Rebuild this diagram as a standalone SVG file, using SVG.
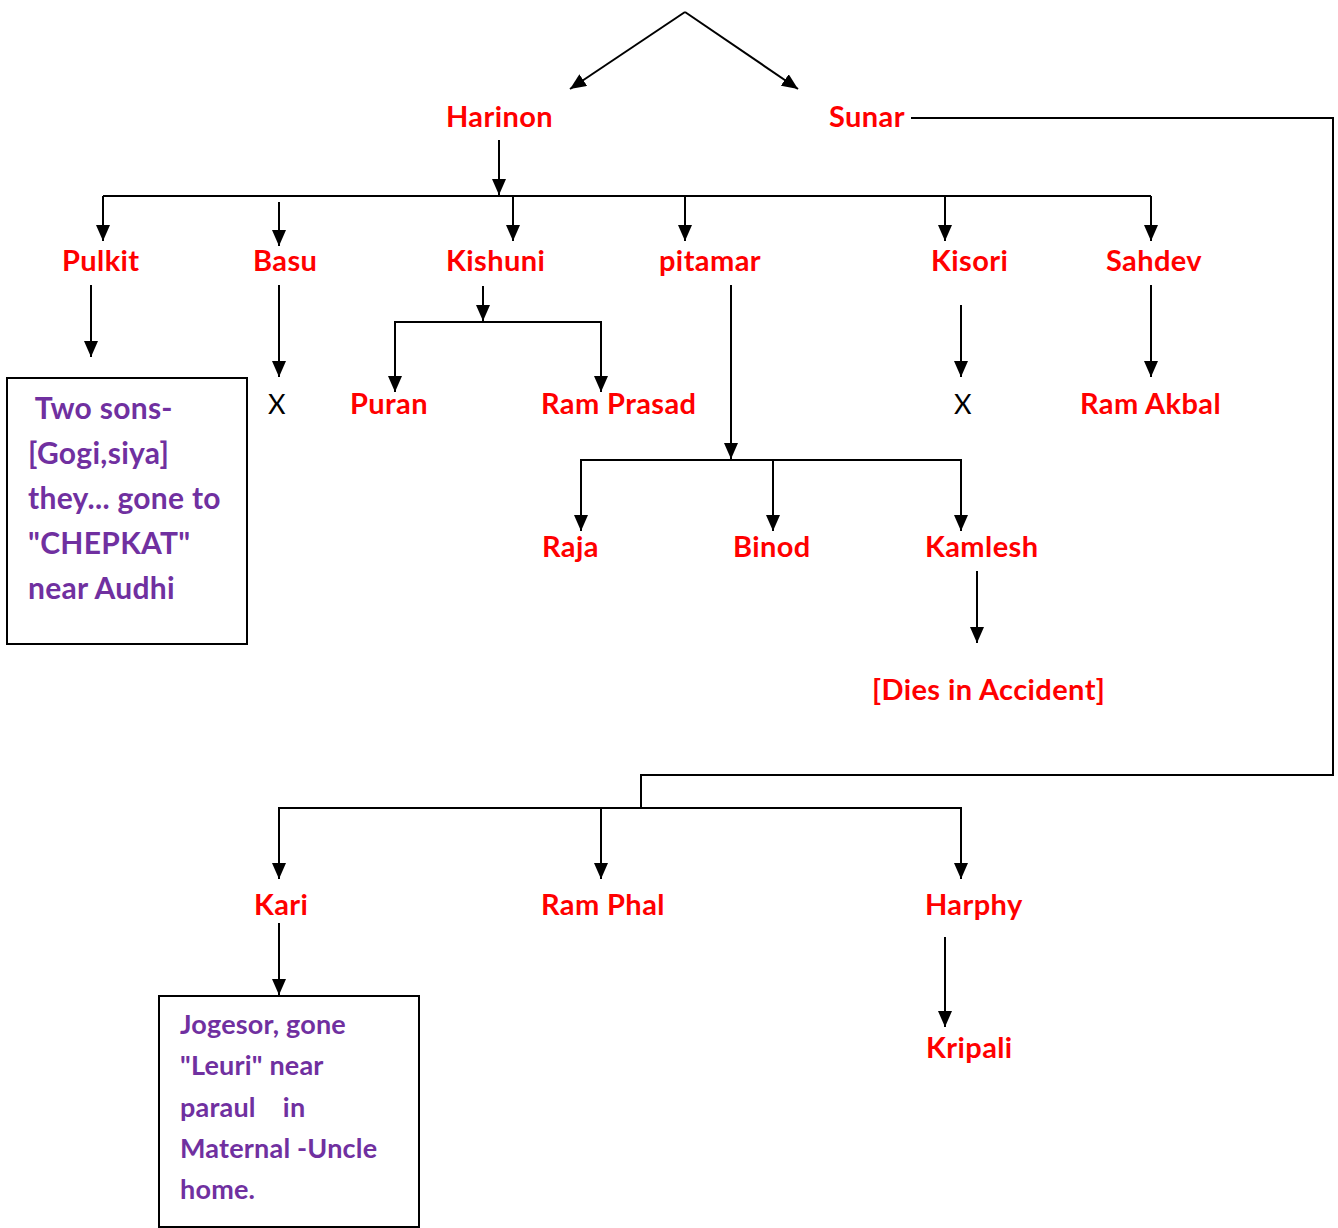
<svg xmlns="http://www.w3.org/2000/svg" width="1338" height="1228" viewBox="0 0 1338 1228">
<defs>
<marker id="ah" viewBox="0 0 16 14" refX="16" refY="7" markerWidth="16" markerHeight="14" orient="auto" markerUnits="userSpaceOnUse"><path d="M0,0 L16,7 L0,14 z" fill="#000"/></marker>
<style>
.n{font-family:Lato,"Liberation Sans",sans-serif;font-weight:bold;font-size:29px;letter-spacing:0.4px;fill:#FF0000}
.p{font-family:Lato,"Liberation Sans",sans-serif;font-weight:bold;font-size:27px;letter-spacing:0.2px;fill:#7030A0}
.q{font-family:Lato,"Liberation Sans",sans-serif;font-weight:bold;font-size:30px;letter-spacing:0.3px;fill:#7030A0}
.x{font-family:Lato,"Liberation Sans",sans-serif;font-size:27px;fill:#000}
.c line,.c polyline{stroke:#000;stroke-width:2;fill:none}
.a{marker-end:url(#ah)}
.box{fill:#fff;stroke:#000;stroke-width:2}
</style>
</defs>
<rect width="1338" height="1228" fill="#fff"/>
<g id="connectors" class="c">
<line class="a" x1="685" y1="12" x2="570" y2="89"/>
<line class="a" x1="685" y1="12" x2="798" y2="89"/>
<line class="a" x1="499" y1="140" x2="499" y2="195"/>
<line x1="103" y1="196" x2="1151" y2="196"/>
<line class="a" x1="103" y1="196" x2="103" y2="241"/>
<line class="a" x1="279" y1="202" x2="279" y2="246"/>
<line class="a" x1="513" y1="196" x2="513" y2="241"/>
<line class="a" x1="685" y1="196" x2="685" y2="241"/>
<line class="a" x1="945" y1="196" x2="945" y2="241"/>
<line class="a" x1="1151" y1="196" x2="1151" y2="241"/>
<line class="a" x1="91" y1="285" x2="91" y2="357"/>
<line class="a" x1="279" y1="285" x2="279" y2="377"/>
<line class="a" x1="483" y1="286" x2="483" y2="321"/>
<polyline class="a" points="483,322 395,322 395,392"/>
<polyline class="a" points="483,322 601,322 601,392"/>
<line class="a" x1="731" y1="285" x2="731" y2="459"/>
<polyline class="a" points="731,460 581,460 581,531"/>
<polyline class="a" points="731,460 961,460 961,531"/>
<line class="a" x1="773" y1="460" x2="773" y2="531"/>
<line class="a" x1="961" y1="305" x2="961" y2="377"/>
<line class="a" x1="1151" y1="285" x2="1151" y2="377"/>
<line class="a" x1="977" y1="571" x2="977" y2="643"/>
<polyline points="911,118 1333,118 1333,775 641,775 641,808"/>
<polyline class="a" points="641,808 279,808 279,879"/>
<polyline class="a" points="641,808 961,808 961,879"/>
<line class="a" x1="601" y1="808" x2="601" y2="879"/>
<line class="a" x1="279" y1="923" x2="279" y2="995"/>
<line class="a" x1="945" y1="937" x2="945" y2="1027"/>
</g>
<g id="harinon"><text class="n" x="446" y="127">Harinon</text></g>
<g id="sunar"><text class="n" x="829" y="127">Sunar</text></g>
<g id="pulkit"><text class="n" x="62" y="271">Pulkit</text></g>
<g id="basu"><text class="n" x="253" y="271">Basu</text></g>
<g id="kishuni"><text class="n" x="446" y="271">Kishuni</text></g>
<g id="pitamar"><text class="n" x="659" y="271">pitamar</text></g>
<g id="kisori"><text class="n" x="931" y="271">Kisori</text></g>
<g id="sahdev"><text class="n" x="1106" y="271">Sahdev</text></g>
<g id="pulkit-note">
<rect class="box" x="7" y="378" width="240" height="266"/>
<text class="q" x="28" y="419" xml:space="preserve"> Two sons-</text>
<text class="q" x="28" y="464">[Gogi,siya]</text>
<text class="q" x="28" y="509">they... gone to</text>
<text class="q" x="28" y="554">"CHEPKAT"</text>
<text class="q" x="28" y="599">near Audhi</text>
</g>
<g id="basu-x"><text class="x" x="268" y="414">X</text></g>
<g id="puran"><text class="n" x="350" y="414">Puran</text></g>
<g id="ramprasad"><text class="n" x="541" y="414">Ram Prasad</text></g>
<g id="kisori-x"><text class="x" x="954" y="414">X</text></g>
<g id="ramakbal"><text class="n" x="1080" y="414">Ram Akbal</text></g>
<g id="raja"><text class="n" x="542" y="557">Raja</text></g>
<g id="binod"><text class="n" x="733" y="557">Binod</text></g>
<g id="kamlesh"><text class="n" x="925" y="557">Kamlesh</text></g>
<g id="dies"><text class="n" x="872" y="700">[Dies in Accident]</text></g>
<g id="kari"><text class="n" x="254" y="915">Kari</text></g>
<g id="ramphal"><text class="n" x="541" y="915">Ram Phal</text></g>
<g id="harphy"><text class="n" x="925" y="915">Harphy</text></g>
<g id="kari-note">
<rect class="box" x="159" y="996" width="260" height="231"/>
<text class="p" x="180" y="1034">Jogesor, gone</text>
<text class="p" x="180" y="1075">"Leuri" near</text>
<text class="p" x="180" y="1117" xml:space="preserve">paraul    in</text>
<text class="p" x="180" y="1158">Maternal -Uncle</text>
<text class="p" x="180" y="1199">home.</text>
</g>
<g id="kripali"><text class="n" x="926" y="1058">Kripali</text></g>
</svg>
